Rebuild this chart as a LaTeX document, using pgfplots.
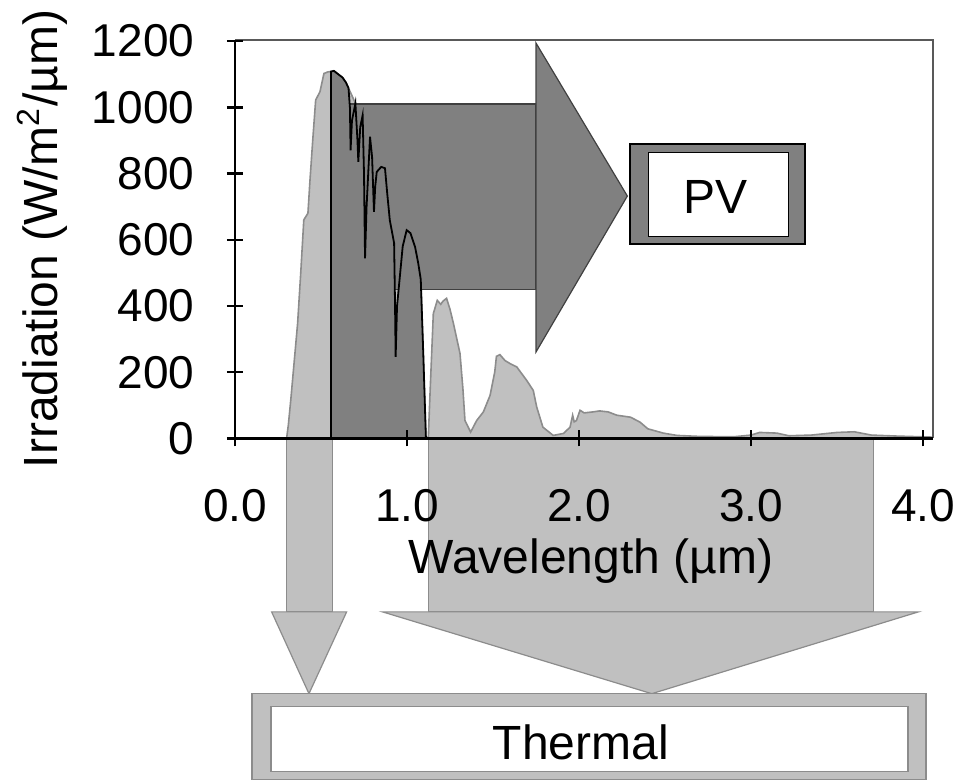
\documentclass[border=0pt]{standalone}
\usepackage{fontspec}
\setmainfont{Liberation Sans}
\usepackage{pgfplots}
\pgfplotsset{compat=1.18}
\definecolor{lightgr}{RGB}{192,192,192}
\definecolor{edgegr}{RGB}{140,140,140}
\definecolor{darkgr}{RGB}{128,128,128}

\begin{document}
\begin{tikzpicture}[font=\fontsize{12}{14}\selectfont]
\begin{axis}[
    at={(58.75pt,85.9pt)}, anchor=south west,
    scale only axis, width=174.5pt, height=99.7pt,
    xmin=0, xmax=4.058, ymin=0, ymax=1204.5,
    axis on top,
    axis x line=bottom, axis y line=left,
    axis line style={-, line width=0.6pt, black},
    tick align=center, major tick length=4pt,
    tick style={line width=0.6pt, black},
    xtick={0,1,2,3,4}, xticklabels={0.0,1.0,2.0,3.0,4.0},
    ytick={0,200,400,600,800,1000,1200},
    yticklabels={0,200,400,600,800,1000,1200},
    /pgf/number format/assume math mode=true,
    tick label style={font=\fontsize{11.5}{13}\selectfont},
    xticklabel style={anchor=base, yshift=-18.75pt},
    yticklabel style={anchor=east, inner sep=0pt, xshift=-8pt},
    xlabel={Wavelength (µm)},
    ylabel={Irradiation (W/m\textsuperscript{2}/µm)},
    xlabel style={at={(axis description cs:0.51,-0.339)}, anchor=base},
    ylabel style={at={(axis description cs:-0.255,0.5)}, anchor=base},
    clip=false,
]
% whole spectrum, light grey
\addplot[draw=edgegr, fill=lightgr, line width=0.4pt] coordinates {
(0.300,0) (0.310,40) (0.325,120) (0.338,196) (0.364,347) (0.382,498)
(0.400,660) (0.424,680) (0.436,780) (0.452,901) (0.469,1022)
(0.494,1047) (0.517,1102) (0.540,1107) (0.558,1108)
(0.575,1110) (0.600,1100) (0.625,1090) (0.645,1075) (0.660,1058)
(0.872,816) (0.998,629) (1.047,578) (1.080,480) (1.110,0)
(1.124,5) (1.135,150) (1.153,377) (1.176,417) (1.196,405) (1.210,415)
(1.230,423) (1.250,390) (1.270,347) (1.308,257) (1.325,150) (1.337,54)
(1.370,19) (1.405,54) (1.444,80) (1.483,130) (1.510,200) (1.520,248)
(1.540,253) (1.570,235) (1.599,226) (1.638,216) (1.696,175) (1.734,145)
(1.754,95) (1.790,34) (1.850,9) (1.910,15) (1.948,34) (1.963,70)
(1.972,50) (1.985,54) (2.006,85) (2.030,77) (2.080,80) (2.120,83)
(2.170,80) (2.220,70) (2.300,64) (2.355,49) (2.400,29) (2.490,16)
(2.570,9) (2.700,6) (2.900,5) (3.000,10) (3.050,18) (3.150,16)
(3.220,8) (3.350,10) (3.500,18) (3.600,20) (3.700,10) (3.850,7)
(4.050,4)
} \closedcycle;

% PV arrow
\draw[fill=darkgr, draw=black!75, line width=0.3pt]
    (axis cs:0.66,450) rectangle (axis cs:1.75,1010);
\draw[fill=darkgr, draw=black!75, line width=0.3pt]
    (axis cs:1.75,1194) -- (axis cs:2.281,732) -- (axis cs:1.75,261) -- cycle;

% PV part of the spectrum
\addplot[draw=black, fill=darkgr, line width=0.45pt] coordinates {
(0.558,0) (0.558,1108) (0.575,1110) (0.600,1100) (0.625,1090)
(0.645,1075) (0.660,1058) (0.668,1000) (0.672,870) (0.680,960)
(0.700,1012) (0.712,900) (0.717,835) (0.728,940) (0.742,976)
(0.750,800) (0.756,544) (0.765,700) (0.785,911) (0.797,850)
(0.808,684) (0.815,760) (0.824,805) (0.850,820) (0.872,816)
(0.885,740) (0.900,659) (0.925,590) (0.930,420) (0.934,246)
(0.942,400) (0.955,470) (0.975,580) (0.998,629) (1.020,620)
(1.047,578) (1.065,530) (1.080,480) (1.095,250) (1.110,0)
} \closedcycle;

% PV box
\draw[fill=darkgr, draw=black, line width=0.4pt]
    (axis cs:2.297,587.5) rectangle (axis cs:3.314,889.9);
\draw[fill=white, draw=black, line width=0.4pt]
    (axis cs:2.403,609.6) rectangle (axis cs:3.219,863.6);
\node[anchor=base] at (axis cs:2.791,680.4) {PV};

% thermal arrows
\draw[fill=lightgr, draw=edgegr, line width=0.3pt]
    (axis cs:0.30,0) rectangle (axis cs:0.566,-524);
\draw[fill=lightgr, draw=edgegr, line width=0.3pt]
    (axis cs:0.213,-524) -- (axis cs:0.649,-524) -- (axis cs:0.430,-771) -- cycle;
\draw[fill=lightgr, draw=edgegr, line width=0.3pt]
    (axis cs:1.124,0) rectangle (axis cs:3.711,-524);
\draw[fill=lightgr, draw=edgegr, line width=0.3pt]
    (axis cs:0.858,-524) -- (axis cs:3.973,-524) -- (axis cs:2.423,-771) -- cycle;

% thermal box
\draw[fill=lightgr, draw=edgegr, line width=0.3pt]
    (axis cs:0.0988,-770) rectangle (axis cs:4.017,-1030);
\draw[fill=white, draw=edgegr, line width=0.3pt]
    (axis cs:0.2093,-810.5) rectangle (axis cs:3.913,-1005);
\node[anchor=base] at (axis cs:2.01,-969.6) {Thermal};

% frame top and right
\draw[black!65, line width=0.5pt]
    (rel axis cs:0,1) -- (rel axis cs:1,1) -- (rel axis cs:1,0);
\end{axis}
\pgfresetboundingbox
\path[use as bounding box] (0pt,0pt) rectangle (240.5pt,195.5pt);
\end{tikzpicture}
\end{document}
